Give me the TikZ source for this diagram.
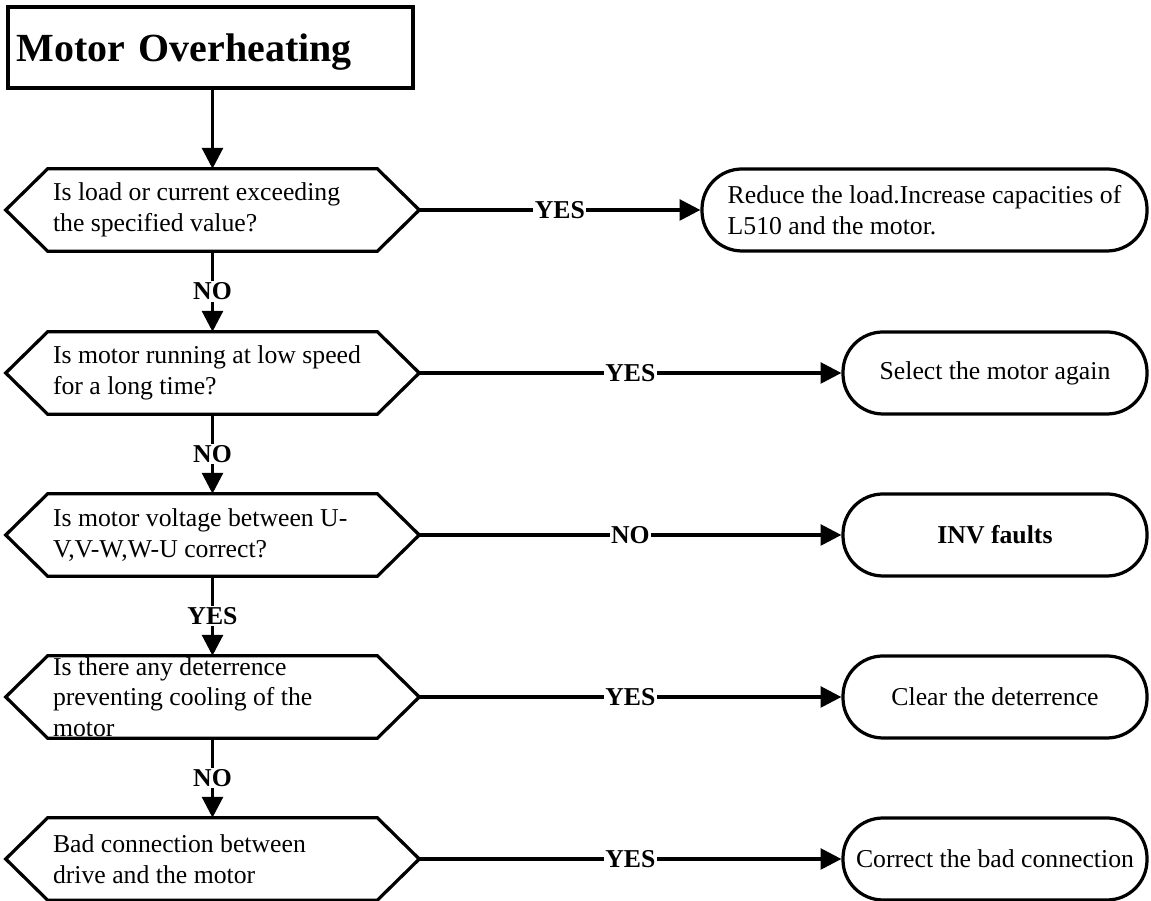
\documentclass[tikz,border=0pt]{standalone}
\usepackage{fontspec}
\setmainfont{Liberation Serif}
\usetikzlibrary{arrows.meta, positioning, calc}
\newcommand{\bodysize}{\fontsize{18.3}{21.7}\selectfont}
\newcommand{\headsize}{\fontsize{28.4}{34}\selectfont}

\begin{document}
\begin{tikzpicture}[
    every node/.style={font=\bodysize},
    titlebox/.style={draw, line width=2.3pt, minimum width=10.125cm, minimum height=2.025cm,
        text width=9.675cm, text depth=0pt, inner xsep=0.225cm, align=left, font=\headsize\bfseries},
    hexbox/.style={minimum width=10.325cm, minimum height=2.05cm, inner sep=0pt},
    question/.style={anchor=west, align=left, inner sep=0pt},
    outcome/.style={draw, line width=2.3pt, rounded corners=1cm, minimum height=2.05cm,
        minimum width=7.6cm, align=center},
    flow/.style={-{Triangle[length=0.52cm, width=0.52cm]}, line width=2.3pt},
    lbl/.style={fill=white, inner sep=1pt, font=\bodysize\bfseries}
]
    \useasboundingbox (0,0) rectangle (28.775,22.525);

    % start
    \node[titlebox] (title) at (5.2625,21.3375) {Motor Overheating};

    % checks
    \node[hexbox] (d1) at (5.3125,17.275) {};
    \node[hexbox] (d2) at (5.3125,13.2) {};
    \node[hexbox] (d3) at (5.3125,9.15) {};
    \node[hexbox] (d4) at (5.3125,5.1) {};
    \node[hexbox] (d5) at (5.3125,1.05) {};
    \foreach \n in {d1,d2,d3,d4,d5}
        \draw[line width=2.3pt] (\n.west) -- ([xshift=1.05cm]\n.north west)
            -- ([xshift=-1.05cm]\n.north east) -- (\n.east)
            -- ([xshift=-1.05cm]\n.south east) -- ([xshift=1.05cm]\n.south west) -- cycle;

    \node[question] (q1) at ([xshift=1.175cm]d1.west) {Is load or current exceeding\\the specified value?};
    \node[question] (q2) at ([xshift=1.175cm]d2.west) {Is motor running at low speed\\for a long time?};
    \node[question] (q3) at ([xshift=1.175cm]d3.west) {Is motor voltage between U-\\V,V-W,W-U correct?};
    \node[question] (q4) at ([xshift=1.175cm]d4.west) {Is there any deterrence\\preventing cooling of the\\motor};
    \node[question] (q5) at ([xshift=1.175cm]d5.west) {Bad connection between\\drive and the motor};

    % remedies
    \node[outcome, minimum width=11.125cm, align=left] (r1) at (23.1125,17.275)
        {Reduce the load.Increase capacities of\\L510 and the motor.};
    \node[outcome] (r2) at (24.875,13.2) {Select the motor again};
    \node[outcome, font=\bodysize\bfseries] (r3) at (24.875,9.15) {INV faults};
    \node[outcome] (r4) at (24.875,5.1) {Clear the deterrence};
    \node[outcome] (r5) at (24.875,1.05) {Correct the bad connection};

    % connectors
    \draw[flow] (title.south -| d1.north) -- (d1.north);
    \draw[flow] (d1.south) -- node[lbl] {NO} (d2.north);
    \draw[flow] (d2.south) -- node[lbl] {NO} (d3.north);
    \draw[flow] (d3.south) -- node[lbl] {YES} (d4.north);
    \draw[flow] (d4.south) -- node[lbl] {NO} (d5.north);

    \draw[flow] (d1.east) -- node[lbl] {YES} (r1.west);
    \draw[flow] (d2.east) -- node[lbl] {YES} (r2.west);
    \draw[flow] (d3.east) -- node[lbl] {NO} (r3.west);
    \draw[flow] (d4.east) -- node[lbl] {YES} (r4.west);
    \draw[flow] (d5.east) -- node[lbl] {YES} (r5.west);
\end{tikzpicture}
\end{document}
